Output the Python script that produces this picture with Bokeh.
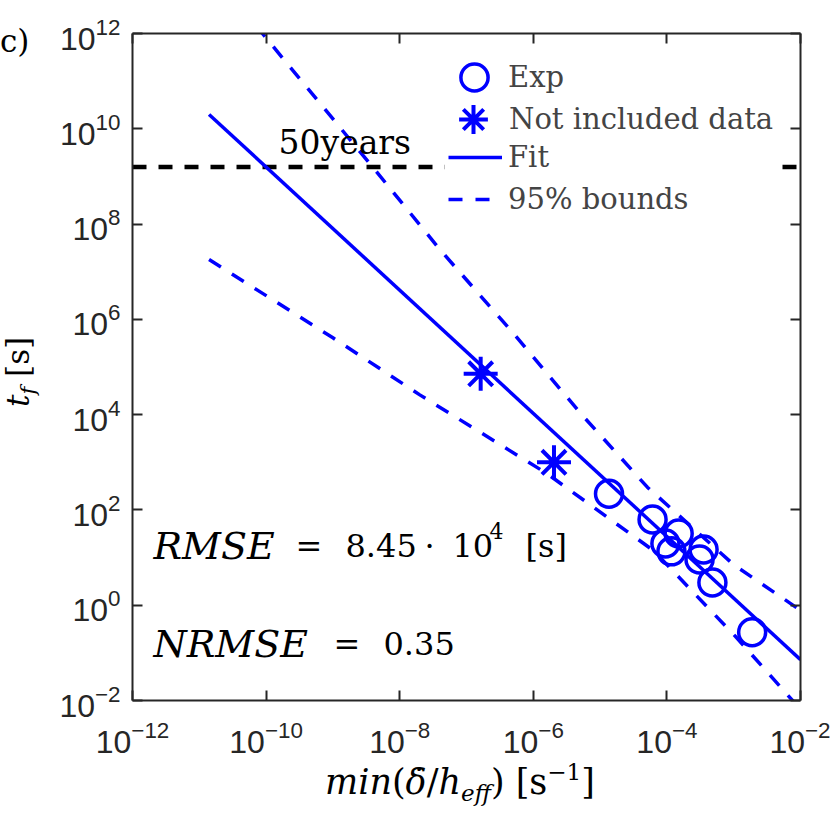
from bokeh.plotting import figure
from bokeh.models import (LogAxis, FixedTicker, Label, Legend, LegendItem, Range1d,
                          CustomJSTickFormatter, Div, BoxAnnotation)
from bokeh.layouts import row, column
from bokeh.embed import file_html
from bokeh.resources import INLINE

# ---------------- data ----------------
exp_x = [1.36e-5, 6.1e-5, 1.5e-4, 9.5e-5, 1.17e-4, 3.54e-4, 3.08e-4, 4.8e-4, 1.89e-3]
exp_y = [219, 63, 32, 19.8, 13.5, 14.8, 9.1, 3.0, 0.27]

excl_x = [1.63e-7, 2.04e-6]
excl_y = [7.2e4, 1.0e3]

fit_x = [1.4e-11, 1.0e-2]
fit_y = [2.0e10, 7.2e-2]

upper_x = [1.4e-11, 8.8e-11, 3.9e-9, 4.1e-8, 4.6e-7, 5.0e-6, 5.1e-5, 1.0e-3, 1.0e-2]
upper_y = [3.5e13, 1.0e12, 1.6e9, 2.8e7, 5.9e5, 1.1e4, 3.0e2, 7.1, 0.78]

lower_x = [1.4e-11, 1.0e-9, 2.0e-8, 1.6e-6, 6.3e-5, 1.1e-3, 1.0e-2]
lower_y = [1.8e7, 4.1e5, 2.6e4, 5.8e2, 14, 0.21, 6.5e-3]

limit_x = [1e-12, 1e-2]
limit_y = [1.58e9, 1.58e9]

x_ticks = [1e-12, 1e-10, 1e-8, 1e-6, 1e-4, 1e-2]
y_ticks = [1e-2, 1e0, 1e2, 1e4, 1e6, 1e8, 1e10, 1e12]

legend_labels = ["Exp", "Not included data", "Fit", "95% bounds"]

BLUE = "#0000FF"
AX = "#262626"
SERIF = "DejaVu Serif"

YW = 45          # width of the y-label strip
PH = 756         # figure height

p = figure(frame_width=668, frame_height=667,
           min_border_left=132 - YW, min_border_top=33, min_border_right=30,
           min_border_bottom=PH - 700,
           x_axis_type="log", y_axis_type="log",
           x_range=Range1d(1e-12, 1e-2), y_range=Range1d(1e-2, 1e12),
           output_backend="svg", toolbar_location=None, margin=0,
           background_fill_color="white", border_fill_color="white")
p.outline_line_color = None
p.xgrid.visible = False
p.ygrid.visible = False

def style_axis(ax):
    ax.axis_line_color = AX
    ax.axis_line_width = 2
    ax.major_tick_line_color = AX
    ax.major_tick_line_width = 2
    ax.major_tick_in = 10
    ax.major_tick_out = 0
    ax.minor_tick_line_color = None
    ax.major_label_text_font = "Liberation Sans"
    ax.major_label_text_color = AX
    ax.major_label_standoff = 12
    ax.major_label_text_font_size = "32px"

p.xaxis.ticker = FixedTicker(ticks=x_ticks)
p.yaxis.ticker = FixedTicker(ticks=y_ticks)
style_axis(p.xaxis[0])
style_axis(p.yaxis[0])
p.xaxis[0].major_label_standoff = 20

blank = CustomJSTickFormatter(code="return ''")
top = LogAxis(ticker=FixedTicker(ticks=x_ticks), formatter=blank)
right = LogAxis(ticker=FixedTicker(ticks=y_ticks), formatter=blank)
for ax in (top, right):
    style_axis(ax)
    ax.major_label_text_font_size = "1px"
    ax.major_label_standoff = 0
p.add_layout(top, "above")
p.add_layout(right, "right")

# ---------------- marks ----------------
limit_r = p.line(limit_x, limit_y, line_color="black", line_width=4.5, line_dash="14 12")
up_r = p.line(upper_x, upper_y, line_color=BLUE, line_width=3.5, line_dash="14 13")
lo_r = p.line(lower_x, lower_y, line_color=BLUE, line_width=3.5, line_dash="14 13")
fit_r = p.line(fit_x, fit_y, line_color=BLUE, line_width=3.5)
exp_r = p.scatter(exp_x, exp_y, marker="circle", size=27, fill_color=None,
                  line_color=BLUE, line_width=3.5)
exc_r = p.scatter(excl_x, excl_y, marker="asterisk", size=34,
                  line_color=BLUE, line_width=4)

# ---------------- legend (white box + one legend per entry) ----------------
p.add_layout(BoxAnnotation(left=312, right=644, bottom=478, top=646,
                           left_units="screen", right_units="screen",
                           bottom_units="screen", top_units="screen",
                           fill_color="white", fill_alpha=1.0, line_color=None))

def add_legend(label, rend, vx, vy, gw, gh, standoff):
    p.add_layout(Legend(items=[LegendItem(label=label, renderers=[rend])],
                        location=(vx, vy), orientation="vertical",
                        label_text_font=SERIF, label_text_font_size="29px",
                        glyph_width=gw, glyph_height=gh, label_height=gh,
                        spacing=0, padding=0, margin=0, label_standoff=standoff,
                        border_line_color=None, background_fill_alpha=0.0),
                 "center")

add_legend(legend_labels[0], exp_r, 308, 589, 68, 68, 0)
add_legend(legend_labels[1], exc_r, 305, 545, 72, 72, 0)
add_legend(legend_labels[2], fit_r, 316, 523, 54, 40, 6)
add_legend(legend_labels[3], up_r, 316, 481, 54, 40, 6)

# ---------------- texts inside the axes ----------------
X0, Y0 = 132, 700   # frame bottom-left in page pixels

def lab(text, X, Y, size, italic=False, align="left"):
    p.add_layout(Label(x=X - X0, y=Y0 - Y, x_units="screen", y_units="screen",
                       text=text, text_font=SERIF, text_font_size=f"{size}px",
                       text_font_style="italic" if italic else "normal",
                       text_color="black", text_align=align,
                       text_baseline="alphabetic"))

lab("50years", 278, 142, 33)

lab("RMSE", 153, 545, 38, italic=True)
lab("=", 295, 545, 32)
lab("8.45", 345, 545, 32)
lab("·", 424, 545, 32)
lab("10", 452, 545, 32)
lab("4", 489, 530, 22)
lab("[s]", 525, 545, 32)

lab("NRMSE", 153, 643, 38, italic=True)
lab("=", 333, 643, 32)
lab("0.35", 383, 643, 32)

# ---------------- texts outside the axes (HTML) ----------------
FONT = "font-family:'DejaVu Serif';color:#000;white-space:nowrap;"

ylabel_html = (
    f'<div style="position:relative;width:{YW}px;height:814px;">'
    f'<div style="position:absolute;left:0px;top:23px;{FONT}font-size:31px;line-height:36px;">c)</div>'
    f'<div style="position:absolute;left:0px;top:407px;transform-origin:0 0;'
    f'transform:rotate(-90deg);{FONT}font-size:31px;line-height:36px;">'
    '<i>t</i><sub style="font-size:21px;line-height:0;vertical-align:-6px;"><i>f</i></sub> [s]</div>'
    '</div>')

xlabel_html = (
    f'<div style="position:relative;width:{830 - YW}px;height:{814 - PH}px;">'
    f'<div style="position:absolute;left:{325 - YW}px;top:9px;{FONT}font-size:35px;line-height:35px;">'
    '<i>min</i>(<i>δ̇</i>/<i>h</i>'
    '<sub style="font-size:23px;line-height:0;vertical-align:-7px;"><i>eff</i></sub>)'
    ' [s<sup style="font-size:23px;line-height:0;vertical-align:14px;">−1</sup>]</div>'
    '</div>')

ydiv = Div(text=ylabel_html, width=YW, height=814, margin=0)
xdiv = Div(text=xlabel_html, width=830 - YW, height=814 - PH, margin=0)

layout = row(ydiv, column(p, xdiv, spacing=0, margin=0), spacing=0, margin=0)

open("out.html", "w").write(file_html(layout, INLINE))
